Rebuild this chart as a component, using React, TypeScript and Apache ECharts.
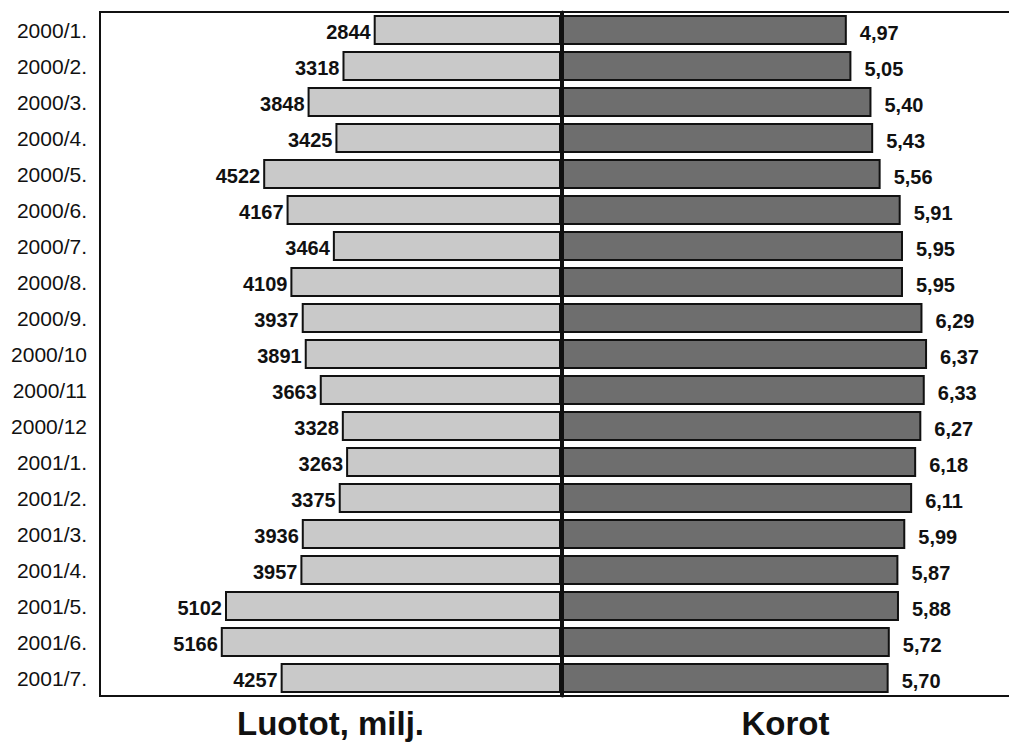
import React, { useEffect, useRef } from "react";
import * as echarts from "echarts";

const categories = [
  "2000/1.", "2000/2.", "2000/3.", "2000/4.", "2000/5.", "2000/6.", "2000/7.",
  "2000/8.", "2000/9.", "2000/10", "2000/11", "2000/12", "2001/1.", "2001/2.",
  "2001/3.", "2001/4.", "2001/5.", "2001/6.", "2001/7.",
];
const luotot = [
  2844, 3318, 3848, 3425, 4522, 4167, 3464, 4109, 3937, 3891, 3663, 3328, 3263,
  3375, 3936, 3957, 5102, 5166, 4257,
];
const korot = [
  4.97, 5.05, 5.4, 5.43, 5.56, 5.91, 5.95, 5.95, 6.29, 6.37, 6.33, 6.27, 6.18,
  6.11, 5.99, 5.87, 5.88, 5.72, 5.7,
];
const leftTitle = "Luotot, milj.";
const rightTitle = "Korot";

const SANS = "'Liberation Sans', Arial, sans-serif";

export default function App() {
  const ref = useRef<HTMLDivElement>(null);
  useEffect(() => {
    document.body.style.margin = "0";
    if (!ref.current) return;
    const chart = echarts.init(ref.current, null, { renderer: "svg" });
    const line = { show: true, lineStyle: { color: "#111", width: 2 } };
    chart.setOption({
      animation: false,
      backgroundColor: "#fff",
      grid: [
        { left: 100, right: 448, top: 12, bottom: 47, show: true, borderColor: "#111", borderWidth: 2 },
        { left: 562, right: 0, top: 12, bottom: 47 },
      ],
      xAxis: [
        {
          gridIndex: 0, type: "value", inverse: true, min: 0, max: 7000,
          axisLine: { show: false }, axisTick: { show: false }, axisLabel: { show: false },
          splitLine: { show: false },
          name: leftTitle, nameLocation: "middle", nameGap: 11,
          nameTextStyle: { fontFamily: SANS, fontWeight: "bold", fontSize: 33, color: "#111", verticalAlign: "top" },
        },
        {
          gridIndex: 1, type: "value", min: 0, max: 7.8, position: "bottom",
          axisLine: line, axisTick: { show: false }, axisLabel: { show: false },
          splitLine: { show: false },
          name: rightTitle, nameLocation: "middle", nameGap: 11,
          nameTextStyle: { fontFamily: SANS, fontWeight: "bold", fontSize: 33, color: "#111", verticalAlign: "top" },
        },
        {
          gridIndex: 1, type: "value", min: 0, max: 7.8, position: "top",
          axisLine: line, axisTick: { show: false }, axisLabel: { show: false },
          splitLine: { show: false },
        },
      ],
      yAxis: [
        {
          gridIndex: 0, type: "category", data: categories, inverse: true,
          axisLine: { show: false }, axisTick: { show: false },
          axisLabel: { margin: 13, fontFamily: SANS, fontSize: 21, color: "#111" },
        },
        {
          gridIndex: 1, type: "category", data: categories, inverse: true,
          axisLine: { show: true, lineStyle: { color: "#111", width: 3 } },
          axisTick: { show: false }, axisLabel: { show: false },
        },
      ],
      series: [
        {
          type: "bar", xAxisIndex: 0, yAxisIndex: 0, data: luotot, barWidth: 30,
          itemStyle: { color: "#c9c9c9", borderColor: "#111", borderWidth: 2 },
          label: {
            show: true, position: "left", distance: 3, offset: [0, 2],
            fontFamily: SANS, fontWeight: "bold", fontSize: 20, color: "#111",
          },
        },
        {
          type: "bar", xAxisIndex: 1, yAxisIndex: 1, data: korot, barWidth: 30,
          itemStyle: { color: "#6e6e6e", borderColor: "#111", borderWidth: 2 },
          label: {
            show: true, position: "right", distance: 13, offset: [0, 3],
            fontFamily: SANS, fontWeight: "bold", fontSize: 20, color: "#111",
            formatter: (p: any) => Number(p.value).toFixed(2).replace(".", ","),
          },
        },
      ],
    });
    return () => chart.dispose();
  }, []);
  return <div ref={ref} style={{ width: 1009, height: 745 }} />;
}
